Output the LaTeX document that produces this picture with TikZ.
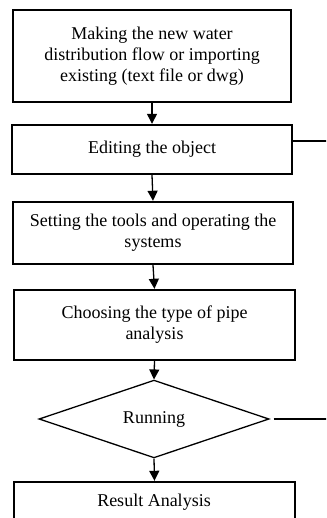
\documentclass[tikz,border=0pt]{standalone}
\usepackage{fontspec}
\setmainfont{Liberation Serif}
\usetikzlibrary{shapes.geometric,arrows.meta}
\begin{document}
\begin{tikzpicture}[x=1pt,y=-1pt,
  stepbox/.style={draw=black,line width=2.4pt,rectangle,align=center,inner sep=0pt,
    font=\fontsize{18}{21}\selectfont},
  decision/.style={draw=black,line width=1.3pt,diamond,inner sep=0pt,
    font=\fontsize{18}{21}\selectfont},
  flow/.style={line width=1.3pt,-{Triangle[width=10pt,length=10pt]}},
  branch/.style={line width=1.3pt}]
\useasboundingbox (0,0) rectangle (326,518);
\clip (0,0) rectangle (326,518);
\coordinate (rim) at (330,0);

\node[stepbox,minimum width=278pt,minimum height=92pt] (make) at (152,56)
  {Making the new water\\distribution flow or importing\\existing (text file or dwg)};
\node[stepbox,minimum width=280pt,minimum height=49pt] (edit) at (152,149.5)
  {Editing the object};
\node[stepbox,minimum width=280pt,minimum height=62pt] (tools) at (153,233)
  {Setting the tools and operating the\\systems};
\node[stepbox,minimum width=281pt,minimum height=70pt] (choose) at (154.5,325)
  {Choosing the type of pipe\\analysis};
\node[decision,minimum width=230pt,minimum height=72pt] (run) at (154,419)
  {Running};
\node[stepbox,minimum width=281pt,minimum height=64pt] (result) at (154.5,514)
  {};
\node[font=\fontsize{18}{21}\selectfont,inner sep=0pt] (resulttext) at (154,502)
  {Result Analysis};

\draw[flow] (make.south) -- (edit.north);
\draw[flow] (edit.south) -- (tools.north);
\draw[flow] (tools.south) -- (choose.north);
\draw[flow] (choose.south) -- (run.north);
\draw[flow] (run.south) -- (result.north);

\draw[branch] ([yshift=8.5pt]edit.east) -- ([yshift=8.5pt]edit.east -| rim);
\draw[branch] ([xshift=4pt]run.east) -- (run.east -| rim);
\end{tikzpicture}
\end{document}
